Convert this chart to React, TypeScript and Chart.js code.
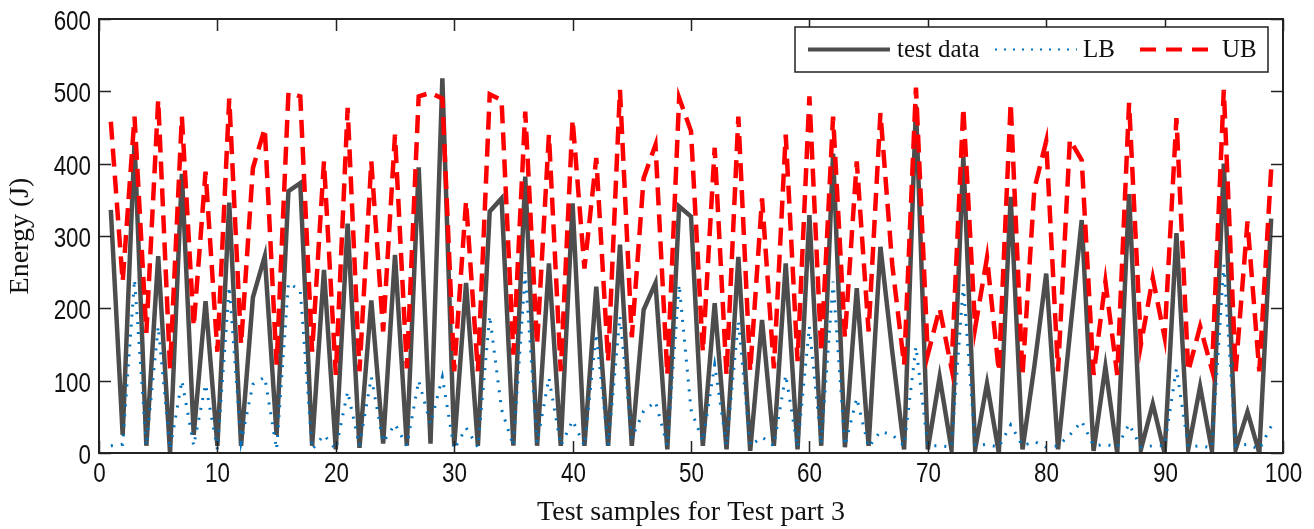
import React, { useEffect, useRef } from "react";
import { Chart, registerables } from "chart.js";

Chart.register(...registerables);

// Sample index (x) for each value below: samples 1..99
const TEST_DATA = [
  336, 25, 430, 10, 272, 0, 386, 25, 210, 10,
  346, 10, 215, 272, 25, 362, 373, 10, 253, 5,
  317, 7, 211, 13, 274, 10, 395, 13, 518, 10,
  235, 10, 334, 352, 10, 382, 10, 262, 10, 345,
  10, 230, 10, 288, 10, 198, 235, 5, 341, 327,
  10, 207, 5, 271, 3, 184, 10, 262, 5, 329,
  10, 414, 8, 228, 10, 285, 140, 5, 480, 5,
  105, 5, 410, 5, 96, 0, 354, 5, 120, 248,
  5, 165, 322, 3, 119, 0, 358, 5, 68, 0,
  304, 5, 92, 3, 400, 5, 57, 0, 324,
];

const LB = [
  10, 12, 240, 10, 175, 5, 100, 10, 95, 5,
  230, 15, 95, 105, 5, 235, 225, 5, 25, 5,
  85, 10, 105, 15, 40, 10, 100, 40, 105, 5,
  35, 8, 190, 60, 10, 250, 14, 104, 10, 45,
  10, 165, 10, 189, 20, 58, 71, 10, 233, 60,
  16, 122, 10, 182, 10, 22, 10, 108, 8, 175,
  12, 237, 10, 76, 8, 30, 25, 10, 147, 10,
  10, 8, 233, 10, 12, 8, 39, 10, 16, 8,
  10, 25, 44, 10, 12, 8, 40, 8, 10, 10,
  117, 8, 10, 7, 260, 10, 12, 5, 37,
];

const UB = [
  458, 237, 465, 166, 488, 117, 465, 175, 389, 140,
  490, 150, 394, 449, 122, 498, 493, 140, 403, 108,
  477, 113, 403, 168, 440, 117, 493, 498, 490, 113,
  348, 113, 496, 488, 136, 472, 150, 440, 113, 461,
  255, 408, 127, 502, 160, 380, 426, 108, 491, 445,
  140, 422, 108, 465, 113, 352, 117, 440, 127, 493,
  140, 465, 160, 403, 168, 470, 260, 122, 505, 136,
  200, 117, 477, 173, 270, 113, 484, 108, 365, 431,
  113, 433, 405, 108, 237, 108, 484, 150, 242, 160,
  463, 113, 175, 115, 502, 113, 320, 113, 392,
];

const X_TICKS = [0, 10, 20, 30, 40, 50, 60, 70, 80, 90, 100];
const Y_TICKS = [0, 100, 200, 300, 400, 500, 600];

const SERIES_NAMES = ["test data", "LB", "UB"];
const X_TITLE = "Test samples for Test part 3";
const Y_TITLE = "Energy (J)";

const GRAY = "#4d4d4d";
const BLUE = "#0072bd";
const RED = "#ff0000";
const AXIS = "#222222";
const TEXT = "#111111";

const SANS = "'Liberation Sans', Arial, sans-serif";
const SERIF = "'Liberation Serif', 'DejaVu Serif', serif";

const toPoints = (arr: number[]) => arr.map((v, i) => ({ x: i + 1, y: v }));

const boxPlugin = {
  id: "matlabBox",
  afterDatasetsDraw(chart: any) {
    const { ctx, chartArea, scales } = chart;
    const { left, right, top, bottom } = chartArea;
    const xs = scales.x;
    const ys = scales.y;
    ctx.save();
    ctx.strokeStyle = AXIS;
    ctx.lineWidth = 1.5;
    ctx.setLineDash([]);
    const tl = 12;
    const line = (x1: number, y1: number, x2: number, y2: number) => {
      ctx.beginPath();
      ctx.moveTo(x1, y1);
      ctx.lineTo(x2, y2);
      ctx.stroke();
    };
    const narrow = (text: string, x: number, y: number, align: CanvasTextAlign) => {
      ctx.save();
      ctx.translate(x, y);
      ctx.scale(0.8, 1);
      ctx.font = `28px ${SANS}`;
      ctx.fillStyle = TEXT;
      ctx.textAlign = align;
      ctx.textBaseline = "alphabetic";
      ctx.fillText(text, 0, 0);
      ctx.restore();
    };
    X_TICKS.forEach((v) => {
      const px = Math.round(xs.getPixelForValue(v)) + 0.5;
      line(px, bottom, px, bottom - tl);
      line(px, top, px, top + tl);
      narrow(String(v), px, bottom + 29, "center");
    });
    Y_TICKS.forEach((v) => {
      const py = Math.round(ys.getPixelForValue(v)) + 0.5;
      line(left, py, left + tl, py);
      line(right, py, right - tl, py);
      narrow(String(v), left - 8, py + 10, "right");
    });
    ctx.lineWidth = 2;
    ctx.strokeRect(left, top, right - left, bottom - top);

    // legend box
    const bw = 473;
    const bh = 45;
    const bx = right - 15 - bw;
    const by = top + 8;
    ctx.fillStyle = "#ffffff";
    ctx.fillRect(bx, by, bw, bh);
    ctx.lineWidth = 1.5;
    ctx.strokeStyle = AXIS;
    ctx.strokeRect(bx, by, bw, bh);
    const cy = by + bh / 2;
    const items = [
      { name: SERIES_NAMES[0], color: GRAY, width: 4, dash: [] as number[], x0: 13, x1: 95, tx: 102 },
      { name: SERIES_NAMES[1], color: BLUE, width: 2, dash: [2, 7], x0: 200, x1: 282, tx: 288 },
      { name: SERIES_NAMES[2], color: RED, width: 4, dash: [16, 10], x0: 345, x1: 417, tx: 427 },
    ];
    items.forEach((it) => {
      ctx.strokeStyle = it.color;
      ctx.lineWidth = it.width;
      ctx.setLineDash(it.dash);
      line(bx + it.x0, cy, bx + it.x1, cy);
      ctx.setLineDash([]);
      ctx.fillStyle = TEXT;
      ctx.font = `25px ${SERIF}`;
      ctx.textBaseline = "middle";
      ctx.textAlign = "left";
      ctx.fillText(it.name, bx + it.tx, cy + 1);
    });
    ctx.restore();
  },
};

export default function App() {
  const canvasRef = useRef<HTMLCanvasElement | null>(null);

  useEffect(() => {
    const canvas = canvasRef.current;
    if (!canvas) return;
    const chart = new Chart(canvas, {
      type: "line",
      data: {
        datasets: [
          {
            label: SERIES_NAMES[2],
            data: toPoints(UB),
            borderColor: RED,
            borderWidth: 4.5,
            borderDash: [18, 9],
            pointRadius: 0,
            tension: 0,
            fill: false,
            order: 0,
          },
          {
            label: SERIES_NAMES[1],
            data: toPoints(LB),
            borderColor: BLUE,
            borderWidth: 3,
            borderDash: [2, 8],
            pointRadius: 0,
            tension: 0,
            fill: false,
            order: 1,
          },
          {
            label: SERIES_NAMES[0],
            data: toPoints(TEST_DATA),
            borderColor: GRAY,
            borderWidth: 4.5,
            pointRadius: 0,
            tension: 0,
            fill: false,
            order: 2,
          },
        ],
      },
      options: {
        responsive: false,
        animation: false,
        devicePixelRatio: 1,
        layout: { padding: { top: 19, right: 31, left: 0, bottom: 0 } },
        plugins: {
          legend: { display: false },
          tooltip: { enabled: false },
        },
        scales: {
          x: {
            type: "linear",
            min: 0,
            max: 100,
            afterFit: (s: any) => {
              s.height = 76;
            },
            afterBuildTicks: (s: any) => {
              s.ticks = X_TICKS.map((v) => ({ value: v }));
            },
            grid: { display: false, drawTicks: false },
            border: { display: false },
            ticks: { display: false },
            title: {
              display: true,
              text: X_TITLE,
              color: TEXT,
              padding: { top: 0, bottom: 0 },
              font: { family: SERIF, size: 28 },
            },
          },
          y: {
            type: "linear",
            min: 0,
            max: 600,
            afterFit: (s: any) => {
              s.width = 99;
            },
            afterBuildTicks: (s: any) => {
              s.ticks = Y_TICKS.map((v) => ({ value: v }));
            },
            grid: { display: false, drawTicks: false },
            border: { display: false },
            ticks: { display: false },
            title: {
              display: true,
              text: Y_TITLE,
              color: TEXT,
              padding: { top: 4, bottom: 0 },
              font: { family: SERIF, size: 28 },
            },
          },
        },
      },
      plugins: [boxPlugin],
    });
    return () => chart.destroy();
  }, []);

  return (
    <div style={{ position: "absolute", left: 0, top: 0, width: 1314, height: 529, background: "#ffffff" }}>
      <canvas ref={canvasRef} width={1314} height={529} style={{ width: 1314, height: 529, display: "block" }} />
    </div>
  );
}
